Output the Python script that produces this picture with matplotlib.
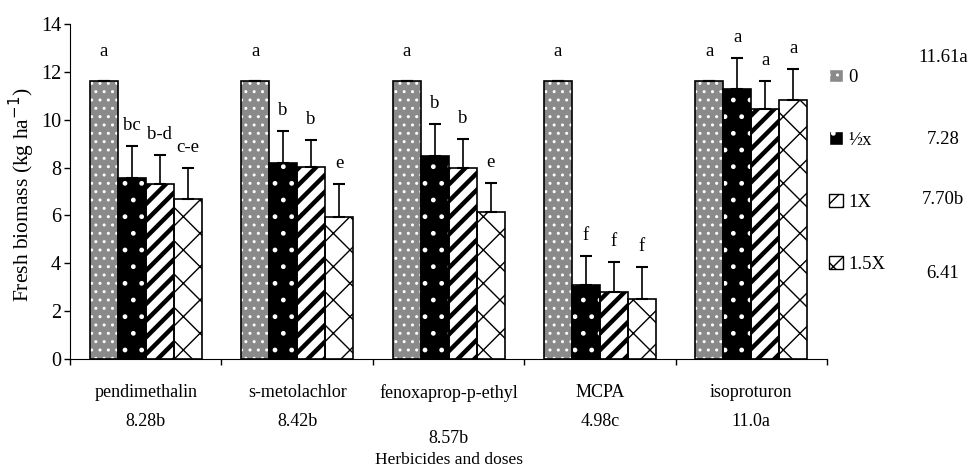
import matplotlib.pyplot as plt
import matplotlib.patches as mpatches
import matplotlib.transforms as mtransforms
import numpy as np

plt.rcParams['font.family'] = 'Liberation Serif'
plt.rcParams['font.size'] = 13

# herbicidas y medias por herbicida
herbicidas = ['pendimethalin', 's-metolachlor', 'fenoxaprop-p-ethyl', 'MCPA', 'isoproturon']
medias_herb = ['8.28b', '8.42b', '8.57b', '4.98c', '11.0a']

# dosis y medias por dosis
dosis = ['0', '½x', '1X', '1.5X']
medias_dosis = ['11.61a', '7.28', '7.70b', '6.41']

# biomasa fresca (kg ha-1) por dosis, un valor por herbicida
biomasa_0 = [11.61, 11.61, 11.61, 11.61, 11.61]
biomasa_medio = [7.55, 8.20, 8.48, 3.09, 11.27]
biomasa_1x = [7.30, 8.01, 7.99, 2.81, 10.43]
biomasa_15x = [6.67, 5.95, 6.13, 2.51, 10.82]

error_0 = [0, 0, 0, 0, 0]
error_medio = [1.35, 1.33, 1.33, 1.23, 1.32]
error_1x = [1.24, 1.14, 1.19, 1.23, 1.19]
error_15x = [1.33, 1.35, 1.24, 1.35, 1.30]

letras_0 = ['a', 'a', 'a', 'a', 'a']
letras_medio = ['bc', 'b', 'b', 'f', 'a']
letras_1x = ['b-d', 'b', 'b', 'f', 'a']
letras_15x = ['c-e', 'e', 'e', 'f', 'a']

valores = [biomasa_0, biomasa_medio, biomasa_1x, biomasa_15x]
errores = [error_0, error_medio, error_1x, error_15x]
letras = [letras_0, letras_medio, letras_1x, letras_15x]

# relleno, color del rayado, rayado, grosor del rayado
estilos = [('#8a8a8a', 'white', '..', 1.0),
           ('black', 'white', '.', 1.0),
           ('white', 'black', '//', 3.2),
           ('white', 'black', 'x', 1.0)]

fig = plt.figure(figsize=(9.74, 4.68), dpi=100)
ax = fig.add_axes([0.0719, 0.2329, 0.7772, 0.7158])

x = np.arange(len(herbicidas)) + 0.5
ancho = 0.185

for i in range(len(dosis)):
    fc, hc, hatch, hlw = estilos[i]
    pos = x + (i - 1.5) * ancho
    vals = np.array(valores[i])
    errs = np.array(errores[i])
    # el grosor del rayado se toma al crear las barras
    with plt.rc_context({'hatch.linewidth': hlw}):
        ax.bar(pos, vals, ancho, color=fc, edgecolor=hc, hatch=hatch,
               linewidth=0, zorder=2)
    ax.bar(pos, vals, ancho, fill=False, edgecolor='black', linewidth=1.2, zorder=3)
    ax.errorbar(pos, vals, yerr=[np.zeros(len(errs)), errs], fmt='none',
                ecolor='black', elinewidth=1.2, capsize=4.5, capthick=1.5, zorder=4)
    for p, v, e, l in zip(pos, vals, errs, letras[i]):
        off = 11.5 if e > 0 else 18.5
        ax.annotate(l, (p, v + e), xytext=(0, off), textcoords='offset points',
                    ha='center', va='baseline', fontsize=13.5)

ax.set_xlim(0, 5)
ax.set_ylim(0, 14)
ax.set_yticks(np.arange(0, 15, 2))
ax.set_xticks(np.arange(0, 6))
ax.set_xticklabels([])
ax.tick_params(axis='both', direction='out', length=4.5, width=1)
ax.tick_params(axis='y', labelsize=14.5, pad=2)
ax.spines['top'].set_visible(False)
ax.spines['right'].set_visible(False)

# nombres de herbicidas y sus medias debajo del eje
trans = mtransforms.blended_transform_factory(ax.transData, fig.transFigure)
for i, (nombre, media) in enumerate(zip(herbicidas, medias_herb)):
    ax.text(x[i], 0.1603, nombre, transform=trans, ha='center', va='center')
    y_media = 0.0641 if i == 2 else 0.1004
    ax.text(x[i], y_media, media, transform=trans, ha='center', va='center')
ax.text(2.5, 0.0171, 'Herbicides and doses', transform=trans, ha='center',
        va='center', fontsize=12.5)

fig.text(0.022, 0.585, 'Fresh biomass (kg ha$^{-1}$)', rotation=90,
         ha='center', va='center', fontsize=15.5)

handles = [mpatches.Patch(facecolor=fc, edgecolor=hc, hatch=h, label=d)
           for (fc, hc, h, hlw), d in zip(estilos, dosis)]
fig.legend(handles=handles, loc='upper left', bbox_to_anchor=(0.842, 0.872),
           frameon=False, handlelength=0.7, handleheight=0.7, handletextpad=0.3,
           labelspacing=2.4, borderpad=0, fontsize=13.5)

for d, y in zip(medias_dosis, [57, 140, 200, 273]):
    fig.text(0.968, 1 - y / 468, d, ha='center', va='center', fontsize=13.5)

plt.savefig('out.png')
